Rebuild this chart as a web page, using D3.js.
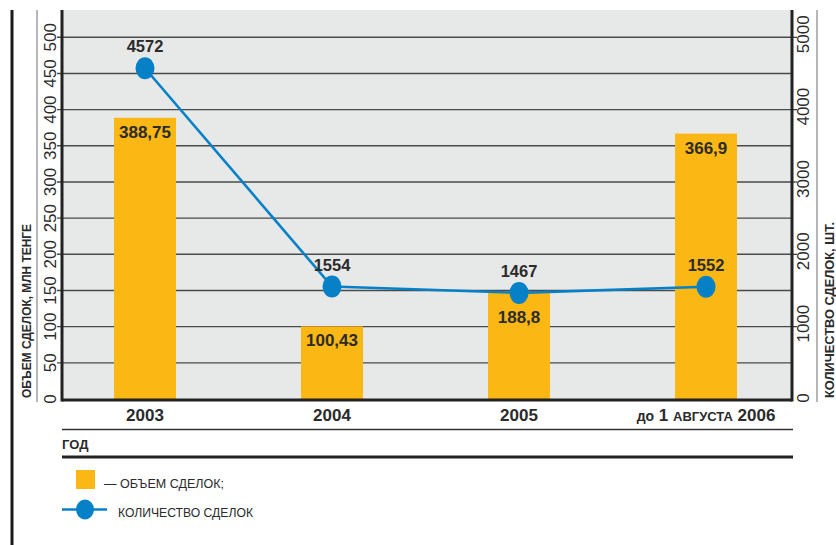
<!DOCTYPE html>
<html>
<head>
<meta charset="utf-8">
<script src="https://cdn.jsdelivr.net/npm/d3@7"></script>
<style>
  html, body { margin: 0; padding: 0; background: #fff; }
  svg { display: block; font-family: "Liberation Sans", Arial, sans-serif; }
</style>
</head>
<body>
<svg id="chart" width="836" height="545"></svg>
<script>
// ---- data ----
const categories = ["2003", "2004", "2005", "2006"];
const categoryLabels = ["2003", "2004", "2005", "до 1 августа 2006"];
// bar heights as drawn in the picture (2005 bar is drawn lower than its printed label)
const volumeValues = [388.75, 100.43, 148, 366.9];
const volumeLabels = ["388,75", "100,43", "188,8", "366,9"];
const countValues = [4572, 1554, 1467, 1552];
const leftTicks = [0, 50, 100, 150, 200, 250, 300, 350, 400, 450, 500];
const rightTicks = [0, 1000, 2000, 3000, 4000, 5000];
const leftTitle = "ОБЪЕМ СДЕЛОК, МЛН ТЕНГЕ";
const rightTitle = "КОЛИЧЕСТВО СДЕЛОК,  ШТ.";
const xTitle = "ГОД";
const legendItems = ["— ОБЪЕМ СДЕЛОК;", "КОЛИЧЕСТВО СДЕЛОК"];

// ---- layout ----
const svg = d3.select("#chart");
const plot = { left: 62, right: 792, top: 10, bottom: 400 };
const barColor = "#fbb714";
const lineColor = "#0681c8";
const textColor = "#2b2b2b";

const x = d3.scalePoint().domain(categories).range([145, 706]);
const yL = d3.scaleLinear().domain([0, 500]).range([plot.bottom - 1, 37.3]);
const yR = d3.scaleLinear().domain([0, 5000]).range([plot.bottom - 1, 37.3]);
const barW = 62;

// plot background
svg.append("rect")
  .attr("x", plot.left).attr("y", plot.top)
  .attr("width", plot.right - plot.left).attr("height", plot.bottom - plot.top)
  .attr("fill", "#e7e8e8");

// gridlines
svg.append("g")
  .selectAll("line")
  .data(leftTicks.filter(d => d > 0))
  .join("line")
  .attr("x1", plot.left - 5).attr("x2", plot.right)
  .attr("y1", d => yL(d)).attr("y2", d => yL(d))
  .attr("stroke", "#4a4a4a").attr("stroke-width", 1.4);

// right small ticks
svg.append("g")
  .selectAll("line")
  .data(rightTicks.filter(d => d > 0))
  .join("line")
  .attr("x1", plot.right).attr("x2", plot.right + 5)
  .attr("y1", d => yR(d)).attr("y2", d => yR(d))
  .attr("stroke", "#333").attr("stroke-width", 1.2);

// bars
svg.append("g")
  .selectAll("rect")
  .data(categories)
  .join("rect")
  .attr("x", d => x(d) - barW / 2)
  .attr("width", barW)
  .attr("y", (d, i) => yL(volumeValues[i]))
  .attr("height", (d, i) => yL(0) - yL(volumeValues[i]))
  .attr("fill", barColor);

// axes frame
svg.append("line").attr("x1", plot.left).attr("x2", plot.left)
  .attr("y1", plot.top).attr("y2", plot.bottom + 1.5)
  .attr("stroke", "#222").attr("stroke-width", 3);
svg.append("line").attr("x1", plot.right).attr("x2", plot.right)
  .attr("y1", plot.top).attr("y2", plot.bottom + 1.5)
  .attr("stroke", "#222").attr("stroke-width", 3);
svg.append("line").attr("x1", plot.left).attr("x2", plot.right)
  .attr("y1", plot.bottom).attr("y2", plot.bottom)
  .attr("stroke", "#222").attr("stroke-width", 3);

// line series
const line = d3.line()
  .x((d, i) => x(categories[i]))
  .y(d => yR(d));
svg.append("path")
  .datum(countValues)
  .attr("d", line)
  .attr("fill", "none")
  .attr("stroke", lineColor)
  .attr("stroke-width", 2.6);

svg.append("g")
  .selectAll("ellipse")
  .data(countValues)
  .join("ellipse")
  .attr("cx", (d, i) => x(categories[i]))
  .attr("cy", d => yR(d))
  .attr("rx", 9.5).attr("ry", 11)
  .attr("fill", lineColor);

// point labels
svg.append("g")
  .selectAll("text")
  .data(countValues)
  .join("text")
  .attr("x", (d, i) => x(categories[i]))
  .attr("y", d => yR(d) - 16)
  .attr("text-anchor", "middle")
  .attr("font-size", 16.5)
  .attr("font-weight", "bold")
  .attr("fill", textColor)
  .text(d => String(d));

// bar labels
svg.append("g")
  .selectAll("text")
  .data(volumeLabels)
  .join("text")
  .attr("x", (d, i) => x(categories[i]))
  .attr("y", (d, i) => {
    const top = yL(volumeValues[i]);
    const py = yR(countValues[i]);
    return Math.abs(py - top) < 15 ? py + 30 : top + 20;
  })
  .attr("text-anchor", "middle")
  .attr("font-size", 17)
  .attr("font-weight", "bold")
  .attr("fill", textColor)
  .text(d => d);

// left tick labels (rotated)
svg.append("g")
  .selectAll("text")
  .data(leftTicks)
  .join("text")
  .attr("transform", d => `translate(56,${yL(d)}) rotate(-90)`)
  .attr("text-anchor", "middle")
  .attr("font-size", 17)
  .attr("fill", textColor)
  .text(d => String(d));

// right tick labels (rotated)
svg.append("g")
  .selectAll("text")
  .data(rightTicks)
  .join("text")
  .attr("transform", d => `translate(809,${yR(d) - (d === 0 ? 1 : 3)}) rotate(-90)`)
  .attr("text-anchor", "middle")
  .attr("font-size", 17)
  .attr("fill", textColor)
  .text(d => String(d));

// thin side separator lines
svg.append("line").attr("x1", 37).attr("x2", 37).attr("y1", 10).attr("y2", 402)
  .attr("stroke", "#888").attr("stroke-width", 1.2);
svg.append("line").attr("x1", 817).attr("x2", 817).attr("y1", 10).attr("y2", 402)
  .attr("stroke", "#888").attr("stroke-width", 1.2);

// left border
svg.append("line").attr("x1", 12).attr("x2", 12).attr("y1", 10).attr("y2", 545)
  .attr("stroke", "#1a1a1a").attr("stroke-width", 3);

// axis titles
svg.append("text")
  .attr("transform", "translate(31,398) rotate(-90)")
  .attr("text-anchor", "start")
  .attr("font-size", 13)
  .attr("font-weight", "bold")
  .attr("fill", textColor)
  .attr("textLength", 174).attr("lengthAdjust", "spacingAndGlyphs")
  .text(leftTitle);

svg.append("text")
  .attr("transform", "translate(834,398) rotate(-90)")
  .attr("text-anchor", "start")
  .attr("font-size", 13)
  .attr("font-weight", "bold")
  .attr("fill", textColor)
  .attr("textLength", 176).attr("lengthAdjust", "spacingAndGlyphs")
  .text(rightTitle);

// x category labels
const xl = svg.append("g")
  .selectAll("text")
  .data(categoryLabels)
  .join("text")
  .attr("x", (d, i) => x(categories[i]))
  .attr("y", 421)
  .attr("text-anchor", "middle")
  .attr("font-size", 17)
  .attr("font-weight", "bold")
  .attr("fill", textColor);
xl.each(function (d) {
  const t = d3.select(this);
  const m = d.match(/^(до 1 )(августа)( \d+)$/);
  if (m) {
    t.append("tspan").attr("font-size", 14).text("до");
    t.append("tspan").text(" 1 ");
    t.append("tspan").attr("font-size", 13).text(m[2].toUpperCase());
    t.append("tspan").text(m[3]);
  } else {
    t.text(d);
  }
});

// lines under x labels
svg.append("line").attr("x1", 62).attr("x2", 793).attr("y1", 429.5).attr("y2", 429.5)
  .attr("stroke", "#333").attr("stroke-width", 1.3);
svg.append("text").attr("x", 62).attr("y", 449)
  .attr("font-size", 13).attr("font-weight", "bold").attr("fill", textColor)
  .text(xTitle);
svg.append("line").attr("x1", 62).attr("x2", 793).attr("y1", 457).attr("y2", 457)
  .attr("stroke", "#222").attr("stroke-width", 3);

// legend
svg.append("rect").attr("x", 76).attr("y", 470).attr("width", 19).attr("height", 19)
  .attr("fill", barColor);
svg.append("text").attr("x", 104).attr("y", 488)
  .attr("font-size", 13).attr("fill", textColor)
  .attr("textLength", 120).attr("lengthAdjust", "spacingAndGlyphs")
  .text(legendItems[0]);
svg.append("line").attr("x1", 62).attr("x2", 107).attr("y1", 509.5).attr("y2", 509.5)
  .attr("stroke", lineColor).attr("stroke-width", 2.6);
svg.append("ellipse").attr("cx", 85).attr("cy", 509.5).attr("rx", 9).attr("ry", 10)
  .attr("fill", lineColor);
svg.append("text").attr("x", 118).attr("y", 517)
  .attr("font-size", 13).attr("fill", textColor)
  .attr("textLength", 135).attr("lengthAdjust", "spacingAndGlyphs")
  .text(legendItems[1]);
</script>
</body>
</html>
